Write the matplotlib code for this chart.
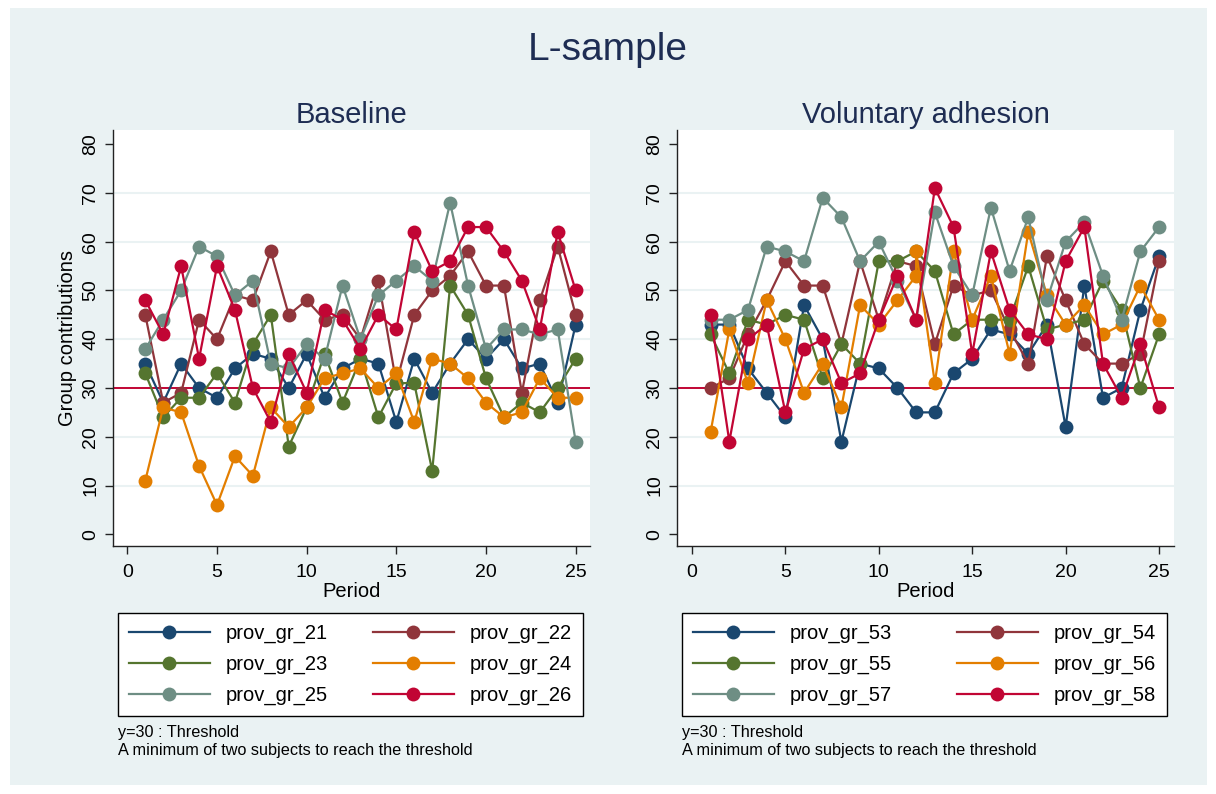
import matplotlib
matplotlib.use("Agg")
import matplotlib.pyplot as plt
from matplotlib.patches import Rectangle
from matplotlib.lines import Line2D

plt.rcParams['font.family'] = ['Liberation Sans', 'DejaVu Sans']

periods = list(range(1, 26))

# Baseline groups
baseline_labels = ["prov_gr_21", "prov_gr_22", "prov_gr_23", "prov_gr_24", "prov_gr_25", "prov_gr_26"]
gr_21 = [35, 27, 35, 30, 28, 34, 37, 36, 30, 37, 28, 34, 36, 35, 23, 36, 29, 35, 40, 36, 40, 34, 35, 27, 43]
gr_22 = [45, 27, 29, 44, 40, 49, 48, 58, 45, 48, 44, 45, 40, 52, 31, 45, 50, 53, 58, 51, 51, 29, 48, 59, 45]
gr_23 = [33, 24, 28, 28, 33, 27, 39, 45, 18, 26, 37, 27, 36, 24, 31, 31, 13, 51, 45, 32, 24, 27, 25, 30, 36]
gr_24 = [11, 26, 25, 14, 6, 16, 12, 26, 22, 26, 32, 33, 34, 30, 33, 23, 36, 35, 32, 27, 24, 25, 32, 28, 28]
gr_25 = [38, 44, 50, 59, 57, 49, 52, 35, 34, 39, 36, 51, 40, 49, 52, 55, 52, 68, 51, 38, 42, 42, 41, 42, 19]
gr_26 = [48, 41, 55, 36, 55, 46, 30, 23, 37, 29, 46, 44, 38, 45, 42, 62, 54, 56, 63, 63, 58, 52, 42, 62, 50]

# Voluntary adhesion groups (group 56 has two records in period 12)
voluntary_labels = ["prov_gr_53", "prov_gr_54", "prov_gr_55", "prov_gr_56", "prov_gr_57", "prov_gr_58"]
periods_56 = [1, 2, 3, 4, 5, 6, 7, 8, 9, 10, 11, 12, 12, 13, 14, 15, 16, 17, 18, 19, 20, 21, 22, 23, 24, 25]
gr_53 = [43, 43, 34, 29, 24, 47, 40, 19, 35, 34, 30, 25, 25, 33, 36, 42, 41, 37, 43, 22, 51, 28, 30, 46, 57]
gr_54 = [30, 32, 41, 48, 56, 51, 51, 39, 56, 44, 56, 55, 39, 51, 49, 50, 42, 35, 57, 48, 39, 35, 35, 37, 56]
gr_55 = [41, 33, 44, 43, 45, 44, 32, 39, 35, 56, 56, 58, 54, 41, 44, 44, 44, 55, 42, 43, 44, 52, 46, 30, 41]
gr_56 = [21, 42, 31, 48, 40, 29, 35, 26, 47, 43, 48, 53, 58, 31, 58, 44, 53, 37, 62, 49, 43, 47, 41, 43, 51, 44]
gr_57 = [44, 44, 46, 59, 58, 56, 69, 65, 56, 60, 52, 44, 66, 55, 49, 67, 54, 65, 48, 60, 64, 53, 44, 58, 63]
gr_58 = [45, 19, 40, 43, 25, 38, 40, 31, 33, 44, 53, 44, 71, 63, 37, 58, 46, 41, 40, 56, 63, 35, 28, 39, 26]

threshold = 30
x_ticks = [0, 5, 10, 15, 20, 25]
y_ticks = [0, 10, 20, 30, 40, 50, 60, 70, 80]

series_colors = ["#1a476f", "#90353b", "#55752f", "#e37e00", "#6e8e84", "#c10534"]
bg_color = "#eaf2f3"
title_color = "#1e2d53"

W, H = 1216, 794
fig = plt.figure(figsize=(W / 100, H / 100), dpi=100, facecolor="white")


def fx(px):
    return px / W


def fy(py):
    return 1 - py / H


# light outer background panel
fig.patches.append(Rectangle((fx(10), fy(785)), fx(1197), (785 - 8) / H,
                             transform=fig.transFigure, facecolor=bg_color,
                             edgecolor="none", zorder=-10))

fig.text(fx(608), fy(50), "L-sample", ha="center", va="center",
         fontsize=28, color=title_color)

panels = [
    ("Baseline", baseline_labels,
     [(periods, gr_21), (periods, gr_22), (periods, gr_23),
      (periods, gr_24), (periods, gr_25), (periods, gr_26)], 113, 590, True),
    ("Voluntary adhesion", voluntary_labels,
     [(periods, gr_53), (periods, gr_54), (periods, gr_55),
      (periods_56, gr_56), (periods, gr_57), (periods, gr_58)], 677, 1174, False),
]

# legend entries run across the rows
row_order = [0, 2, 4, 1, 3, 5]

top, bottom = 130, 546
for title, labels, data, x0, x1, show_ylabel in panels:
    ax = fig.add_axes([fx(x0), fy(bottom), fx(x1 - x0), (bottom - top) / H])
    ax.set_zorder(2)
    ax.set_facecolor("white")
    ax.set_xlim(-0.8, 25.8)
    ax.set_ylim(-2.4, 82.9)
    for yv in y_ticks[1:-1]:
        ax.axhline(yv, color=bg_color, lw=1.5, zorder=0)
    ax.axhline(threshold, color="#c10534", lw=1.4, zorder=1)
    for (xs, vals), lab, col in zip(data, labels, series_colors):
        ax.plot(xs, vals, color=col, lw=1.6, marker="o", markersize=10,
                markeredgewidth=0, label=lab, zorder=2)
    for side in ("top", "right"):
        ax.spines[side].set_visible(False)
    for side in ("left", "bottom"):
        ax.spines[side].set_color("#222222")
        ax.spines[side].set_linewidth(1.0)
    ax.set_xticks(x_ticks)
    ax.set_yticks(y_ticks)
    ax.tick_params(axis="both", direction="out", length=6, width=1.0,
                   color="#222222", labelsize=14, pad=4)
    ax.tick_params(axis="x", pad=7)
    plt.setp(ax.get_yticklabels(), rotation=90, va="center")
    ax.set_xlabel("Period", fontsize=14.5, labelpad=1)
    if show_ylabel:
        ax.set_ylabel("Group contributions", fontsize=14.5, labelpad=4)
    ax.set_title(title, fontsize=21, color=title_color, pad=5)

    # legend box under the panel
    lx0, lx1, ly0, ly1 = x0 + 5, x1 - 7, 613, 716
    handles = [Line2D([], [], color=c, lw=1.6, marker="o", markersize=10,
                      markeredgewidth=0) for c in series_colors]
    leg = fig.legend([handles[i] for i in row_order], [labels[i] for i in row_order],
                     ncol=2, loc="upper left",
                     bbox_to_anchor=(fx(lx0), fy(ly1), fx(lx1 - lx0), (ly1 - ly0) / H),
                     mode="expand", fontsize=14.5, frameon=True, fancybox=False,
                     edgecolor="black", facecolor="white", framealpha=1,
                     handlelength=4, handletextpad=0.8, numpoints=1,
                     labelspacing=0.58, borderpad=0.55, borderaxespad=0,
                     columnspacing=1.0)
    leg.get_frame().set_linewidth(1.0)

    fig.text(fx(x0 + 5), fy(733), "y=30 : Threshold", ha="left", va="center", fontsize=11.7)
    fig.text(fx(x0 + 5), fy(750), "A minimum of two subjects to reach the threshold",
             ha="left", va="center", fontsize=11.7)

fig.savefig("out.png", dpi=100, facecolor="white")
